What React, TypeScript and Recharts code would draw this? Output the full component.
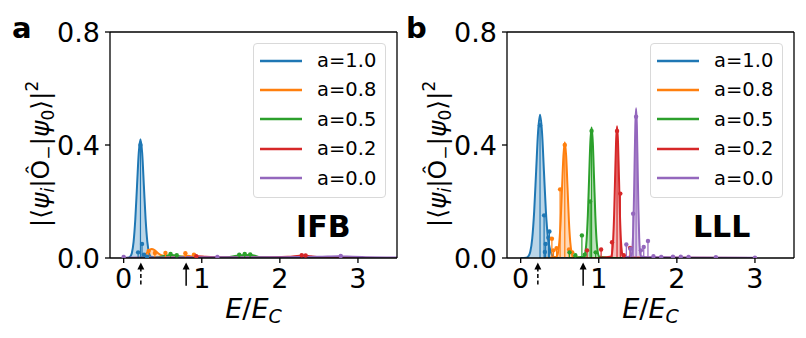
import React from 'react';
import { ComposedChart, Area, Scatter, XAxis, YAxis, ReferenceLine, Legend } from 'recharts';

type P = [number, number];

const COLORS = ['#1f77b4', '#ff7f0e', '#2ca02c', '#d62728', '#9467bd'];
const LEGEND_LABELS = ['a=1.0', 'a=0.8', 'a=0.5', 'a=0.2', 'a=0.0'];
const X_TICKS = [0, 1, 2, 3];
const Y_TICKS = [0, 0.4, 0.8];
const X_DOMAIN: [number, number] = [-0.175, 3.5];
const Y_DOMAIN: [number, number] = [0, 0.8];
const ARROW_X = [0.22, 0.8];

// panel a (IFB): broadened curves
const IFB_CURVE_10: P[] = [
  [0, 0], [0.06, 0.001], [0.083, 0.005], [0.105, 0.018], [0.127, 0.057], [0.149, 0.137], [0.171, 0.255],
  [0.193, 0.371], [0.215, 0.42], [0.237, 0.371], [0.259, 0.255], [0.281, 0.137], [0.303, 0.057],
  [0.325, 0.018], [0.347, 0.005], [0.4, 0.002], [0.6, 0.001], [3.5, 0],
];
const IFB_CURVE_08: P[] = [
  [0.1, 0], [0.18, 0.001], [0.24, 0.004], [0.27, 0.011], [0.3, 0.019], [0.33, 0.028], [0.36, 0.032],
  [0.39, 0.029], [0.42, 0.022], [0.45, 0.015], [0.48, 0.01], [0.51, 0.008], [0.54, 0.009], [0.57, 0.005],
  [0.62, 0.003], [0.7, 0.004], [0.78, 0.006], [0.82, 0.008], [0.86, 0.006], [0.92, 0.004], [1.0, 0.001], [3.5, 0],
];
const IFB_CURVE_05: P[] = [
  [0.3, 0], [0.45, 0.003], [0.55, 0.009], [0.62, 0.011], [0.7, 0.007], [0.8, 0.003], [1.0, 0.002],
  [1.3, 0.002], [1.45, 0.008], [1.55, 0.011], [1.65, 0.01], [1.75, 0.003], [2.0, 0.001], [3.5, 0],
];
const IFB_CURVE_02: P[] = [
  [0.6, 0], [0.85, 0.003], [0.95, 0.006], [1.05, 0.004], [1.3, 0.002], [1.8, 0.002], [2.1, 0.004],
  [2.3, 0.009], [2.4, 0.006], [2.6, 0.002], [3.5, 0],
];
const IFB_CURVE_00: P[] = [
  [0, 0.001], [0.5, 0.002], [1.0, 0.003], [1.5, 0.003], [2.0, 0.003], [2.5, 0.004], [2.75, 0.006],
  [2.85, 0.005], [3.1, 0.003], [3.5, 0.002],
];

// panel a: individual eigenstate weights (stems)
const IFB_STEMS_10: P[] = [[0.215, 0.4], [0.185, 0.02], [0.235, 0.05], [0.26, 0.012], [0.3, 0.005]];
const IFB_STEMS_08: P[] = [[0.32, 0.025], [0.4, 0.018], [0.535, 0.018], [0.79, 0.017], [0.9, 0.012]];
const IFB_STEMS_05: P[] = [[0.6, 0.014], [0.68, 0.01], [1.48, 0.012], [1.55, 0.014], [1.62, 0.013]];
const IFB_STEMS_02: P[] = [[0.93, 0.006], [2.28, 0.01], [2.33, 0.009]];
const IFB_STEMS_00: P[] = [[0.0, 0.004], [1.2, 0.004], [2.78, 0.007]];

// panel b (LLL)
const LLL_CURVE_10: P[] = [
  [0, 0], [0.07, 0.001], [0.098, 0.006], [0.123, 0.022], [0.148, 0.069], [0.173, 0.165], [0.198, 0.307],
  [0.223, 0.447], [0.248, 0.507], [0.273, 0.447], [0.298, 0.307], [0.323, 0.165], [0.348, 0.075],
  [0.373, 0.035], [0.398, 0.012], [0.43, 0.003], [0.5, 0], [3.0, 0],
];
const LLL_CURVE_08: P[] = [
  [0.3, 0], [0.42, 0.002], [0.46, 0.005], [0.4775, 0.018], [0.495, 0.056], [0.5125, 0.133], [0.53, 0.249],
  [0.5475, 0.362], [0.565, 0.41], [0.5825, 0.362], [0.6, 0.249], [0.6175, 0.133], [0.635, 0.056],
  [0.6525, 0.018], [0.67, 0.005], [0.75, 0.002], [1.0, 0], [3.0, 0],
];
const LLL_CURVE_05: P[] = [
  [0.6, 0], [0.75, 0.003], [0.812, 0.005], [0.828, 0.02], [0.844, 0.063], [0.86, 0.15], [0.876, 0.28],
  [0.892, 0.408], [0.908, 0.462], [0.924, 0.408], [0.94, 0.28], [0.956, 0.15], [0.972, 0.063],
  [0.988, 0.02], [1.004, 0.005], [1.1, 0.002], [1.3, 0], [3.0, 0],
];
const LLL_CURVE_02: P[] = [
  [1.0, 0], [1.1, 0.003], [1.159, 0.005], [1.1715, 0.02], [1.184, 0.063], [1.1965, 0.151], [1.209, 0.283],
  [1.2215, 0.411], [1.234, 0.466], [1.2465, 0.411], [1.259, 0.283], [1.2715, 0.151], [1.284, 0.063],
  [1.2965, 0.02], [1.309, 0.005], [1.4, 0.002], [2.0, 0.001], [3.0, 0],
];
const LLL_CURVE_00: P[] = [
  [1.3, 0.002], [1.418, 0.006], [1.428, 0.023], [1.438, 0.072], [1.448, 0.172], [1.458, 0.321],
  [1.468, 0.468], [1.478, 0.53], [1.488, 0.468], [1.498, 0.321], [1.508, 0.172], [1.518, 0.072],
  [1.528, 0.023], [1.538, 0.006], [1.6, 0.003], [2.0, 0.002], [3.0, 0.001],
];

const LLL_STEMS_10: P[] = [[0.248, 0.47], [0.3, 0.151], [0.32, 0.05], [0.31, 0.021], [0.355, 0.072], [0.368, 0.094]];
const LLL_STEMS_08: P[] = [[0.565, 0.4], [0.505, 0.243], [0.4, 0.068], [0.42, 0.027], [0.46, 0.035], [0.62, 0.03], [0.66, 0.02]];
const LLL_STEMS_05: P[] = [[0.908, 0.45], [0.89, 0.2], [0.784, 0.08], [0.625, 0.02], [0.96, 0.02], [0.7, 0.01], [0.82, 0.012]];
const LLL_STEMS_02: P[] = [[1.234, 0.45], [1.276, 0.228], [1.17, 0.056], [1.03, 0.03], [0.85, 0.027], [1.4, 0.036], [1.32, 0.01]];
const LLL_STEMS_00: P[] = [
  [1.478, 0.5], [1.44, 0.157], [1.353, 0.048], [1.405, 0.033], [1.54, 0.027], [1.576, 0.039], [1.63, 0.06],
  [1.7, 0.006], [1.8, 0.004], [1.95, 0.005], [2.05, 0.005], [2.15, 0.004], [2.5, 0.003], [3.0, 0.001],
];

const FONT = '"DejaVu Sans", sans-serif';
const toRows = (pts: P[]) => pts.map(([x, y]) => ({ x, y }));

const Arrow = (props: any) => {
  const { x1, y1, y2, dashed } = props;
  const top = Math.min(y1, y2);
  const bot = Math.max(y1, y2);
  return (
    <g>
      <line x1={x1} x2={x1} y1={top + 5} y2={bot} stroke="#000" strokeWidth={1.5} strokeDasharray={dashed ? '4 2.5' : undefined} />
      <path d={`M${x1 - 3.5},${top + 7} L${x1},${top} L${x1 + 3.5},${top + 7} Z`} fill="#000" />
    </g>
  );
};

const YLabel = ({ viewBox }: any) => {
  const cx = viewBox.x + 49;
  const cy = viewBox.y + viewBox.height / 2 + 9;
  return (
    <text transform={`translate(${cx},${cy}) rotate(-90)`} textAnchor="middle" fontSize={25} fontFamily={FONT} fill="#000">
      <tspan>|⟨</tspan>
      <tspan fontStyle="italic">ψ</tspan>
      <tspan fontStyle="italic" fontSize={17} dy={5}>i</tspan>
      <tspan dy={-5}>|Ô</tspan>
      <tspan fontSize={17} dy={5}>−</tspan>
      <tspan dy={-5}>|</tspan>
      <tspan fontStyle="italic">ψ</tspan>
      <tspan fontSize={17} dy={5}>0</tspan>
      <tspan dy={-5}>⟩|</tspan>
      <tspan fontSize={17} dy={-11}>2</tspan>
    </text>
  );
};

const XLabel = ({ viewBox }: any) => (
  <text x={viewBox.x + viewBox.width / 2} y={viewBox.y + 60} textAnchor="middle" fontSize={27} fontFamily={FONT} fill="#000">
    <tspan fontStyle="italic">E</tspan>
    <tspan>/</tspan>
    <tspan fontStyle="italic">E</tspan>
    <tspan fontStyle="italic" fontSize={19} dy={5}>C</tspan>
  </text>
);

const LegendBox = () => (
  <div
    style={{
      border: '1px solid #d9d9d9',
      borderRadius: 4,
      background: 'rgba(255,255,255,0.8)',
      padding: '2px 0 4px 6px',
      width: 125,
    }}
  >
    {LEGEND_LABELS.map((l, i) => (
      <div key={l} style={{ display: 'flex', alignItems: 'center', height: 29.4 }}>
        <svg width={42} height={6} style={{ display: 'block' }}>
          <line x1={0} x2={42} y1={3} y2={3} stroke={COLORS[i]} strokeWidth={2.5} />
        </svg>
        <span style={{ marginLeft: 15, fontSize: 19.5, fontFamily: FONT, lineHeight: 1, color: '#000' }}>{l}</span>
      </div>
    ))}
  </div>
);

const Panel = ({ curves, stems, letter, tag, left }: { curves: P[][]; stems: P[][]; letter: string; tag: string; left: number }) => (
  <div style={{ position: 'absolute', left, top: 0, width: 403, height: 338 }}>
    <ComposedChart width={403} height={338} margin={{ top: 32, right: 6, bottom: 0, left: 0 }}>
      <XAxis
        type="number"
        dataKey="x"
        domain={X_DOMAIN}
        ticks={X_TICKS}
        allowDataOverflow
        height={80}
        stroke="#000"
        strokeWidth={1.3}
        tickSize={5}
        tickMargin={6}
        tick={{ fill: '#000', fontSize: 27, fontFamily: FONT }}
        label={<XLabel />}
      />
      <YAxis
        type="number"
        domain={Y_DOMAIN}
        ticks={Y_TICKS}
        allowDataOverflow
        width={110}
        stroke="#000"
        strokeWidth={1.3}
        tickSize={5}
        tickMargin={5}
        tickFormatter={(v: number) => v.toFixed(1)}
        tick={{ fill: '#000', fontSize: 27, fontFamily: FONT }}
        label={<YLabel />}
      />
      {curves.map((c, i) => (
        <Area
          key={`area-${i}`}
          data={toRows(c)}
          dataKey="y"
          type="monotone"
          stroke="none"
          fill={COLORS[i]}
          fillOpacity={0.3}
          isAnimationActive={false}
          dot={false}
          activeDot={false}
        />
      ))}
      {stems.flatMap((s, i) =>
        s.map(([x, y], j) => (
          <ReferenceLine key={`stem-${i}-${j}`} segment={[{ x, y: 0 }, { x, y }]} stroke={COLORS[i]} strokeWidth={1.2} />
        ))
      )}
      {stems.map((s, i) => (
        <Scatter
          key={`dots-${i}`}
          data={toRows(s)}
          dataKey="y"
          fill={COLORS[i]}
          isAnimationActive={false}
          shape={(p: any) => <circle cx={p.cx} cy={p.cy} r={2.2} fill={COLORS[i]} />}
        />
      ))}
      {curves.map((c, i) => (
        <Area
          key={`line-${i}`}
          data={toRows(c)}
          dataKey="y"
          type="monotone"
          stroke={COLORS[i]}
          strokeWidth={2}
          fill="none"
          isAnimationActive={false}
          dot={false}
          activeDot={false}
        />
      ))}
      {/* top and right spines */}
      <ReferenceLine y={Y_DOMAIN[1]} stroke="#000" strokeWidth={1.3} ifOverflow="visible" />
      <ReferenceLine x={X_DOMAIN[1]} stroke="#000" strokeWidth={1.3} ifOverflow="visible" />
      {ARROW_X.map((x, i) => (
        <ReferenceLine
          key={`arrow-${i}`}
          segment={[{ x, y: -0.016 }, { x, y: -0.098 }]}
          ifOverflow="visible"
          shape={(p: any) => <Arrow {...p} dashed={i === 0} />}
        />
      ))}
      <Legend
        layout="horizontal"
        align="center"
        verticalAlign="middle"
        content={<LegendBox />}
        wrapperStyle={{ position: 'absolute', left: 253, top: 43, width: 133 }}
      />
    </ComposedChart>
    <svg width={403} height={338} style={{ position: 'absolute', left: 0, top: 0, pointerEvents: 'none' }}>
      <text x={letter === 'a' ? 12 : 9} y={38} fontSize={29} fontWeight="bold" fontFamily={FONT}>{letter}</text>
      <text x={296} y={237} fontSize={30} fontWeight="bold" fontFamily={FONT}>{tag}</text>
    </svg>
  </div>
);

export default function App() {
  return (
    <div style={{ position: 'absolute', left: 0, top: 0, width: 806, height: 338, background: '#fff' }}>
      <Panel
        left={0}
        letter="a"
        tag="IFB"
        curves={[IFB_CURVE_10, IFB_CURVE_08, IFB_CURVE_05, IFB_CURVE_02, IFB_CURVE_00]}
        stems={[IFB_STEMS_10, IFB_STEMS_08, IFB_STEMS_05, IFB_STEMS_02, IFB_STEMS_00]}
      />
      <Panel
        left={397}
        letter="b"
        tag="LLL"
        curves={[LLL_CURVE_10, LLL_CURVE_08, LLL_CURVE_05, LLL_CURVE_02, LLL_CURVE_00]}
        stems={[LLL_STEMS_10, LLL_STEMS_08, LLL_STEMS_05, LLL_STEMS_02, LLL_STEMS_00]}
      />
    </div>
  );
}
